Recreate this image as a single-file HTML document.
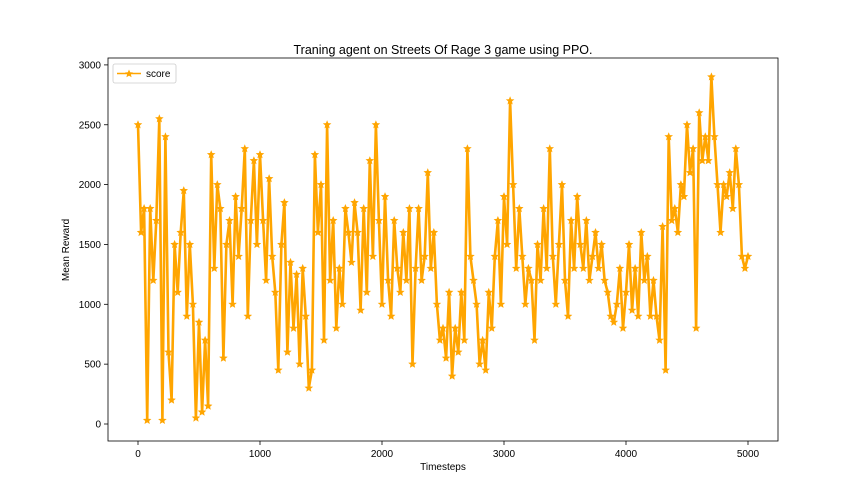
<!DOCTYPE html>
<html><head><meta charset="utf-8"><style>
body{margin:0;background:#fff;}
svg{display:block;font-family:"Liberation Sans","DejaVu Sans",sans-serif;}
</style></head><body>
<svg id="chart" width="864" height="504" viewBox="0 0 864 504" xmlns="http://www.w3.org/2000/svg">
<rect x="0" y="0" width="864" height="504" fill="#fff"/>
<text x="443" y="54" text-anchor="middle" font-size="12.5" fill="#000">Traning agent on Streets Of Rage 3 game using PPO.</text>
<g id="plot"></g>
<rect x="108" y="58" width="670" height="383" fill="none" stroke="#000" stroke-width="0.8"/>
<g id="xticks"></g><g id="yticks"></g>
<text x="443" y="470" text-anchor="middle" font-size="10" fill="#000">Timesteps</text>
<text transform="translate(69,250) rotate(-90)" text-anchor="middle" font-size="10" fill="#000">Mean Reward</text>
<g>
<rect x="113" y="64" width="63" height="19" rx="2" fill="#fff" stroke="#ccc" stroke-width="0.8"/>
<line x1="117" y1="73.5" x2="141" y2="73.5" stroke="#ffa500" stroke-width="1.5"/>
<path d="M129,69.5 L130.2,72.3 L133.2,72.5 L130.9,74.4 L131.6,77.3 L129,75.7 L126.4,77.3 L127.1,74.4 L124.8,72.5 L127.8,72.3 Z" fill="#ffa500"/>
<text x="146" y="77" font-size="10" fill="#000">score</text>
</g>
</svg>
<script>
const timesteps = [];
for (let i = 0; i <= 200; i++) timesteps.push(i * 25);
const scores = [
2500,1600,1800,30,1800,1200,1700,2550,30,2400,600,200,1500,1100,1600,1950,900,1500,1000,50,850,100,700,150,2250,1300,2000,1800,550,1500,1700,1000,1900,1400,1800,2300,900,1700,2200,1500,
2250,1700,1200,2050,1400,1100,450,1500,1850,600,1350,800,1250,500,1300,900,300,450,2250,1600,2000,700,2500,1200,1700,800,1300,1000,1800,1600,1350,1850,1600,950,1800,1100,2200,1400,2500,1700,
1000,1900,1200,900,1700,1300,1100,1600,1200,1800,500,1300,1800,1200,1400,2100,1300,1600,1000,700,800,550,1100,400,800,600,1100,700,2300,1400,1200,1000,500,700,450,1100,800,1400,1700,1000,
1900,1500,2700,2000,1300,1800,1400,1000,1300,1200,700,1500,1200,1800,1300,2300,1400,1000,1500,2000,1200,900,1700,1300,1900,1500,1300,1700,1200,1400,1600,1300,1500,1200,1100,900,850,1000,1300,800,
1100,1500,950,1300,900,1600,1200,1400,900,1200,900,700,1650,450,2400,1700,1800,1600,2000,1900,2500,2100,2300,800,2600,2200,2400,2200,2900,2400,2000,1600,2000,1900,2100,1800,2300,2000,1400,1300,1400];
const xTickValues = [0,1000,2000,3000,4000,5000];
const yTickValues = [0,500,1000,1500,2000,2500,3000];
const NS='http://www.w3.org/2000/svg';
const xs = v => 138 + v * 0.122;
const ys = v => 424 - v * 0.1197;
const plot = document.getElementById('plot');
let d = '';
timesteps.forEach((t,i)=>{ if(scores[i]===undefined) return; d += (i?'L':'M') + xs(t).toFixed(1) + ',' + ys(scores[i]).toFixed(1); });
const line = document.createElementNS(NS,'path');
line.setAttribute('d', d);
line.setAttribute('fill','none');
line.setAttribute('stroke','#ffa500');
line.setAttribute('stroke-width','2.6');
line.setAttribute('stroke-linejoin','round');


plot.appendChild(line);
function star(cx,cy,r){let p='';for(let k=0;k<10;k++){const a=-Math.PI/2+k*Math.PI/5;const rr=k%2?r*0.45:r;p+=(k?'L':'M')+(cx+rr*Math.cos(a)).toFixed(1)+','+(cy+rr*Math.sin(a)).toFixed(1);}return p+'Z';}
let sd='';
timesteps.forEach((t,i)=>{ if(scores[i]===undefined) return; sd += star(xs(t), ys(scores[i]), 4.5); });
const marks = document.createElementNS(NS,'path');
marks.setAttribute('d', sd);
marks.setAttribute('fill','#ffa500');


plot.appendChild(marks);
const xg=document.getElementById('xticks');
xTickValues.forEach(v=>{
  const l=document.createElementNS(NS,'line');
  l.setAttribute('x1',xs(v));l.setAttribute('x2',xs(v));l.setAttribute('y1',441);l.setAttribute('y2',445);l.setAttribute('stroke','#000');l.setAttribute('stroke-width','0.8');
  
  
  xg.appendChild(l);
  const tx=document.createElementNS(NS,'text');
  tx.setAttribute('x',xs(v));tx.setAttribute('y',457);tx.setAttribute('text-anchor','middle');tx.setAttribute('font-size','10');
  tx.textContent=v;
  
  
  xg.appendChild(tx);
});
const yg=document.getElementById('yticks');
yTickValues.forEach(v=>{
  const l=document.createElementNS(NS,'line');
  l.setAttribute('x1',104);l.setAttribute('x2',108);l.setAttribute('y1',ys(v));l.setAttribute('y2',ys(v));l.setAttribute('stroke','#000');l.setAttribute('stroke-width','0.8');
  
  
  yg.appendChild(l);
  const tx=document.createElementNS(NS,'text');
  tx.setAttribute('x',101);tx.setAttribute('y',ys(v)+3.5);tx.setAttribute('text-anchor','end');tx.setAttribute('font-size','10');
  tx.textContent=v;
  
  
  yg.appendChild(tx);
});
</script>
</body></html>
